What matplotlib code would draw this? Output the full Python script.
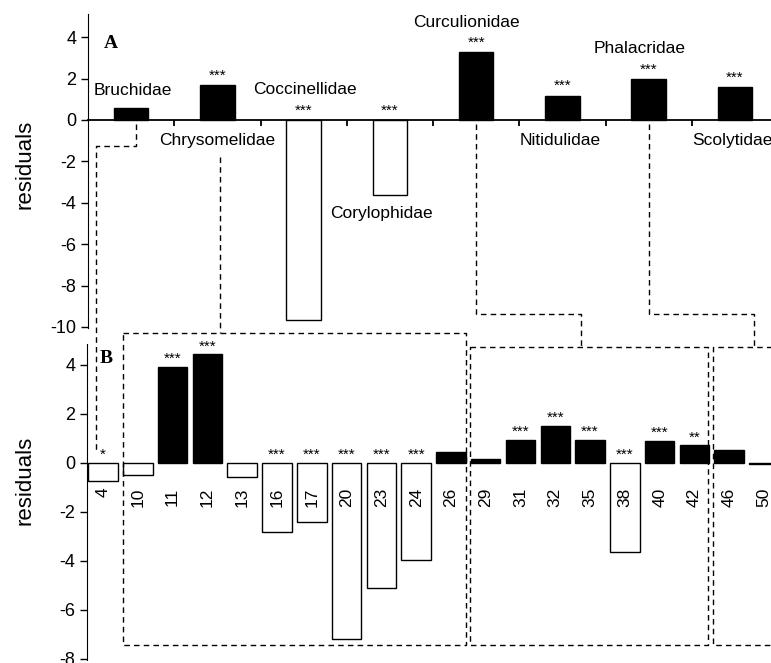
import matplotlib
matplotlib.use("Agg")
import matplotlib.pyplot as plt
from matplotlib.lines import Line2D
import numpy as np

plt.rcParams['font.family'] = ['Liberation Sans', 'DejaVu Sans']
plt.rcParams['axes.unicode_minus'] = False

# panel A: families
families = ["Bruchidae", "Chrysomelidae", "Coccinellidae", "Corylophidae",
            "Curculionidae", "Nitidulidae", "Phalacridae", "Scolytidae"]
fam_res = [0.57, 1.7, -9.68, -3.62, 3.27, 1.17, 1.98, 1.59]
fam_sig = ["", "***", "***", "***", "***", "***", "***", "***"]

# panel B: samples
samples = ["4", "10", "11", "12", "13", "16", "17", "20", "23", "24", "26",
           "29", "31", "32", "35", "38", "40", "42", "46", "50"]
samp_res = [-0.73, -0.48, 3.92, 4.44, -0.56, -2.84, -2.4, -7.2, -5.13, -3.97, 0.44,
            0.15, 0.94, 1.51, 0.94, -3.63, 0.89, 0.71, 0.54, -0.04]
samp_sig = ["*", "", "***", "***", "", "***", "***", "***", "***", "***", "",
            "", "***", "***", "***", "***", "***", "**", "", ""]

W, H = 771, 663
fig = plt.figure(figsize=(W / 100, H / 100), dpi=100)

def box(l, t, r, b):
    return [l / W, 1 - b / H, (r - l) / W, (b - t) / H]

axA = fig.add_axes(box(88, 14, 778, 328))
axB = fig.add_axes(box(87, 344, 771, 660))

### panel A
xa = np.arange(len(families))
colA = ["black" if v > 0 else "white" for v in fam_res]
axA.bar(xa, fam_res, width=0.4, color=colA, edgecolor="black", linewidth=1)
axA.set_xlim(-0.5, 7.5)
axA.set_ylim(-10.05, 5.12)
axA.set_yticks(np.arange(-10, 5, 2))
for s in ["top", "right"]:
    axA.spines[s].set_visible(False)
axA.spines["bottom"].set_position(("data", 0))
axA.spines["bottom"].set_linewidth(1.3)
axA.set_xticks(np.arange(0.5, 7.5, 1))
axA.set_xticklabels([])
axA.tick_params(axis="x", direction="out", length=4, width=1.3, pad=0)
axA.tick_params(axis="y", length=5, width=1, labelsize=13)
axA.set_ylabel("residuals", fontsize=16)
axA.yaxis.set_label_coords(-0.076, 0.52)

for i, (v, s) in enumerate(zip(fam_res, fam_sig)):
    if s:
        axA.text(i, max(v, 0) + 0.12, s, ha="center", va="bottom", fontsize=11)

lab_pos = [(0.02, 1.4), (1.0, -0.97), (2.01, 1.45), (2.9, -4.5),
           (3.89, 4.69), (4.98, -0.97), (5.9, 3.43), (6.97, -0.97)]
for name, (x, y) in zip(families, lab_pos):
    axA.text(x, y, name, ha="center", va="center", fontsize=12.5)
axA.text(-0.32, 3.7, "A", fontsize=14, fontweight="bold", family="Liberation Serif",
         ha="left", va="center")

### panel B
xb = np.arange(len(samples))
colB = ["black" if v > 0 else "white" for v in samp_res]
axB.bar(xb, samp_res, width=0.85, color=colB, edgecolor="black", linewidth=1)
axB.set_xlim(-0.46, 19.2)
axB.set_ylim(-8.05, 4.85)
axB.set_yticks(np.arange(-8, 5, 2))
for s in ["top", "right", "bottom"]:
    axB.spines[s].set_visible(False)
axB.set_xticks([])
axB.tick_params(axis="y", length=5, width=1, labelsize=13)
axB.set_ylabel("residuals", fontsize=16)
axB.yaxis.set_label_coords(-0.075, 0.57)

for i, (lab, v, s) in enumerate(zip(samples, samp_res, samp_sig)):
    axB.text(i, -1.0, lab, rotation=90, ha="center", va="top", fontsize=12.5)
    if s:
        axB.text(i, max(v, 0) + 0.03, s, ha="center", va="bottom", fontsize=11)
axB.text(-0.1, 4.25, "B", fontsize=14, fontweight="bold", family="Liberation Serif",
         ha="left", va="center")

### dashed connectors
inv = fig.transFigure.inverted()

def fpt(ax, x, y):
    return inv.transform(ax.transData.transform((x, y)))

def dline(pts):
    xs = [p[0] for p in pts]
    ys = [p[1] for p in pts]
    fig.add_artist(Line2D(xs, ys, transform=fig.transFigure, color="black",
                          lw=1, ls=(0, (4, 3))))

def xmix(axx, xval, axy, yval):
    # x from one axes' data coords, y from another's
    return (fpt(axx, xval, 0)[0], fpt(axy, 0, yval)[1])

rect_top1 = 5.29
rect_top2 = 4.71
rect_bot = -7.42

# Bruchidae -> sample 4
dline([fpt(axA, 0.06, -0.2), fpt(axA, 0.06, -1.26),
       xmix(axB, -0.2, axA, -1.26), fpt(axB, -0.2, 0.4)])
# Chrysomelidae -> box 10-26
dline([fpt(axA, 1.03, -1.8), xmix(axA, 1.03, axB, rect_top1)])
dline([fpt(axB, 0.575, rect_top1), fpt(axB, 10.43, rect_top1),
       fpt(axB, 10.43, rect_bot), fpt(axB, 0.575, rect_bot),
       fpt(axB, 0.575, rect_top1)])
# Curculionidae -> box 29-42
dline([fpt(axA, 4.0, -0.2), fpt(axA, 4.0, -9.37),
       xmix(axB, 13.74, axA, -9.37), fpt(axB, 13.74, rect_top2)])
dline([fpt(axB, 10.55, rect_top2), fpt(axB, 17.39, rect_top2),
       fpt(axB, 17.39, rect_bot), fpt(axB, 10.55, rect_bot),
       fpt(axB, 10.55, rect_top2)])
# Phalacridae -> box 46-50
dline([fpt(axA, 6.0, -0.2), fpt(axA, 6.0, -9.37),
       xmix(axB, 18.7, axA, -9.37), fpt(axB, 18.7, rect_top2)])
dline([fpt(axB, 20.0, rect_top2), fpt(axB, 17.53, rect_top2),
       fpt(axB, 17.53, rect_bot), fpt(axB, 20.0, rect_bot)])

fig.savefig("out.png", dpi=100)
